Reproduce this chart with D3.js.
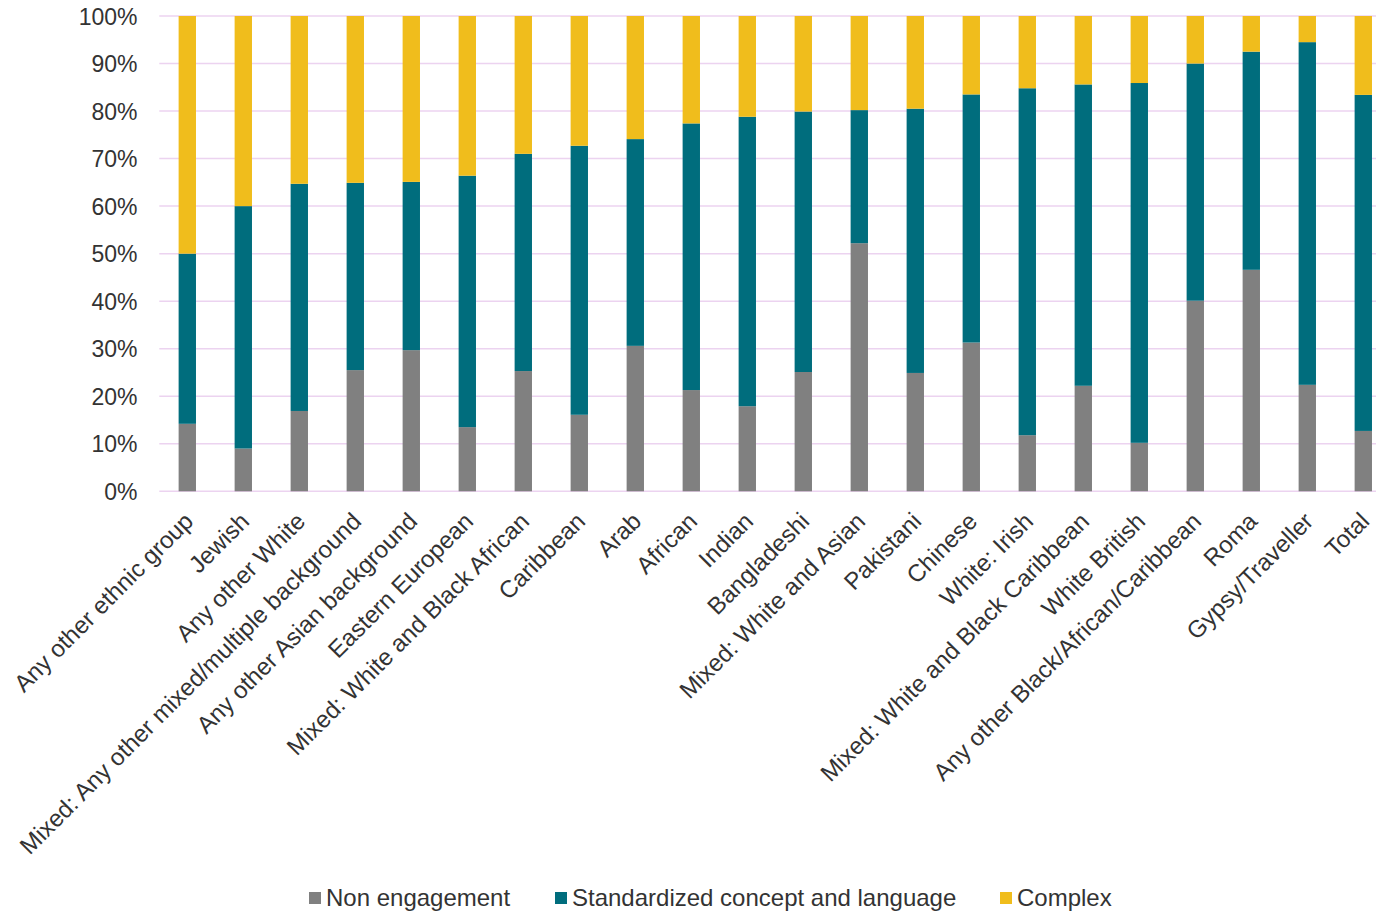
<!DOCTYPE html>
<html>
<head>
<meta charset="utf-8">
<script src="https://cdn.jsdelivr.net/npm/d3@7"></script>
<style>
  html, body { margin: 0; padding: 0; background: #fff; }
  svg { display: block; font-family: "Liberation Sans", Arial, sans-serif; }
</style>
</head>
<body>
<svg id="chart" width="1376" height="912"></svg>
<script>
// Ethnic groups, ordered as shown along the axis
const categories = [
  "Any other ethnic group", "Jewish", "Any other White",
  "Mixed: Any other mixed/multiple background", "Any other Asian background",
  "Eastern European", "Mixed: White and Black African", "Caribbean", "Arab",
  "African", "Indian", "Bangladeshi", "Mixed: White and Asian", "Pakistani",
  "Chinese", "White: Irish", "Mixed: White and Black Caribbean", "White British",
  "Any other Black/African/Caribbean", "Roma", "Gypsy/Traveller", "Total"
];

// Share of each group (%), per engagement type
const nonEngagement = [14.2, 9.0, 16.9, 25.5, 29.7, 13.5, 25.3, 16.1, 30.6, 21.3, 17.9,
                       25.1, 52.2, 24.9, 31.3, 11.8, 22.2, 10.2, 40.1, 46.6, 22.4, 12.7];
const standardized  = [35.8, 51.0, 47.8, 39.4, 35.4, 52.9, 45.7, 56.6, 43.5, 56.1, 60.9,
                       54.8, 28.0, 55.6, 52.2, 73.0, 63.4, 75.7, 49.9, 45.9, 72.1, 70.7];
const complex       = [50.0, 40.0, 35.3, 35.1, 34.9, 33.6, 29.0, 27.3, 25.9, 22.6, 21.2,
                       20.1, 19.8, 19.5, 16.5, 15.2, 14.4, 14.1, 10.0, 7.5, 5.5, 16.6];

const seriesNames = ["Non engagement", "Standardized concept and language", "Complex"];
const seriesColors = ["#808080", "#006d7d", "#f0bd1c"];
const yTicks = [0, 10, 20, 30, 40, 50, 60, 70, 80, 90, 100];

const rows = categories.map((c, i) => ({
  cat: c,
  "Non engagement": nonEngagement[i],
  "Standardized concept and language": standardized[i],
  "Complex": complex[i]
}));

const svg = d3.select("#chart");
const plot = { left: 159.3, right: 1391.3, top: 16, bottom: 491.3 };
const textColor = "#333";

const x = d3.scaleBand()
  .domain(categories)
  .range([plot.left, plot.right])
  .paddingInner(0.69)
  .paddingOuter(0.345);

const y = d3.scaleLinear().domain([0, 100]).range([plot.bottom, plot.top]);

// Horizontal gridlines
svg.append("g")
  .selectAll("line")
  .data(yTicks)
  .join("line")
  .attr("x1", plot.left)
  .attr("x2", plot.right)
  .attr("y1", d => y(d))
  .attr("y2", d => y(d))
  .attr("stroke", "#ecd3f0")
  .attr("stroke-width", 1.5);

// Y axis labels
const yAxis = d3.axisLeft(y).tickValues(yTicks).tickFormat(d => d + "%").tickSize(0).tickPadding(0);
const yg = svg.append("g").attr("transform", `translate(137.5,0)`).call(yAxis);
yg.select(".domain").remove();
yg.selectAll("text")
  .attr("font-size", 23)
  .attr("fill", textColor)
  .attr("font-family", "Liberation Sans, Arial, sans-serif")
  .attr("dy", "0.35em");

// Stacked bars
const stack = d3.stack().keys(seriesNames)(rows);
svg.append("g")
  .selectAll("g")
  .data(stack)
  .join("g")
  .attr("fill", (d, i) => seriesColors[i])
  .selectAll("rect")
  .data(d => d)
  .join("rect")
  .attr("x", d => x(d.data.cat))
  .attr("width", x.bandwidth())
  .attr("y", d => y(d[1]))
  .attr("height", d => y(d[0]) - y(d[1]));

// Category labels, rotated
const xAxis = d3.axisBottom(x).tickSize(0).tickPadding(0);
const xg = svg.append("g").attr("transform", `translate(0,${plot.bottom})`).call(xAxis);
xg.select(".domain").remove();
xg.selectAll("text")
  .attr("font-size", 24)
  .attr("fill", textColor)
  .attr("font-family", "Liberation Sans, Arial, sans-serif")
  .attr("text-anchor", "end")
  .attr("dy", null)
  .attr("y", 0)
  .attr("transform", "translate(-5,19) rotate(-45)")
  .attr("dominant-baseline", "hanging");

// Legend
const legendX = [309, 555, 1000];
const legend = svg.append("g").attr("transform", "translate(0,898)");
const items = legend.selectAll("g")
  .data(seriesNames)
  .join("g")
  .attr("transform", (d, i) => `translate(${legendX[i]},0)`);
items.append("rect")
  .attr("x", 0).attr("y", -6)
  .attr("width", 12).attr("height", 12)
  .attr("fill", (d, i) => seriesColors[i]);
items.append("text")
  .attr("x", 17)
  .attr("dy", "0.35em")
  .attr("font-size", 24)
  .attr("fill", textColor)
  .text(d => d);
</script>
</body>
</html>
